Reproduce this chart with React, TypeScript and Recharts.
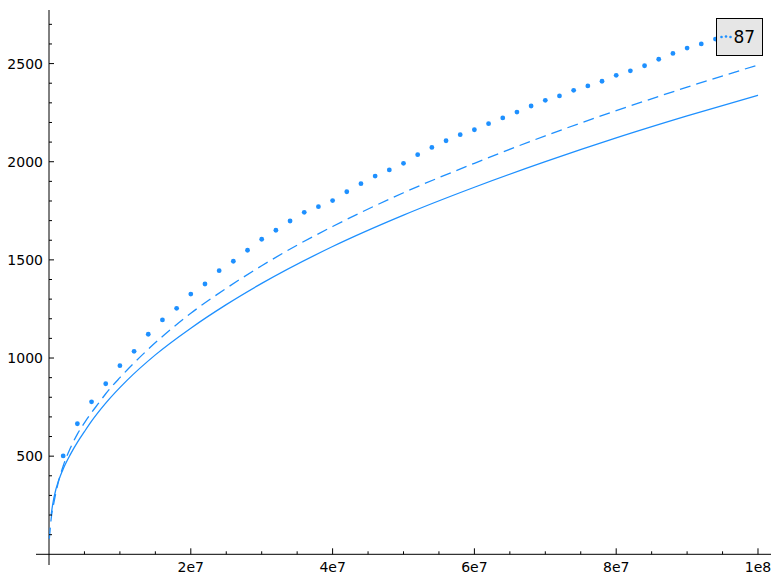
import React from "react"
import { ComposedChart, Line, Scatter, XAxis, YAxis, ReferenceLine, ReferenceDot } from "recharts"

// counted values, sampled every 2e6 (x in millions)
const DOT_X_M = [2, 4, 6, 8, 10, 12, 14, 16, 18, 20, 22, 24, 26, 28, 30, 32, 34, 36, 38, 40, 42, 44, 46, 48, 50, 52, 54, 56, 58, 60, 62, 64, 66, 68, 70, 72, 74, 76, 78, 80, 82, 84, 86, 88, 90, 92, 94, 96, 98, 100]
const DOT_Y = [501, 665, 777, 869, 961, 1034, 1121, 1194, 1253, 1326, 1377, 1445, 1493, 1549, 1605, 1651, 1698, 1742, 1771, 1802, 1847, 1888, 1927, 1958, 1992, 2036, 2073, 2107, 2138, 2163, 2194, 2223, 2253, 2284, 2313, 2335, 2364, 2386, 2410, 2440, 2463, 2489, 2522, 2552, 2579, 2600, 2625, 2650, 2672, 2696]

// solid curve
const SOLID_X_M = [0.3, 0.5, 1, 2, 3, 4, 5, 6, 8, 11, 15, 20, 25, 30, 40, 50, 60, 70, 80, 90, 100]
const SOLID_Y = [200, 250, 335, 435, 508, 570, 625, 678, 770, 886, 1016, 1152, 1272, 1380, 1568, 1728, 1870, 2000, 2121, 2233, 2339]

// dashed curve
const DASH_X_M = [0.05, 0.3, 0.7, 1.2, 2, 3, 4, 5, 6, 7, 8, 10, 12, 14, 16, 20, 25, 30, 35, 40, 50, 60, 70, 80, 90, 100]
const DASH_Y = [80, 180, 265, 350, 450, 540, 612, 670, 722, 770, 818, 900, 975, 1045, 1110, 1228, 1355, 1470, 1575, 1670, 1842, 1992, 2132, 2260, 2380, 2493]

const X_MAJOR = [2e7, 4e7, 6e7, 8e7, 1e8]
const X_MAJOR_LABELS = ["2e7", "4e7", "6e7", "8e7", "1e8"]
const X_MINOR = [5e6, 1e7, 1.5e7, 2.5e7, 3e7, 3.5e7, 4.5e7, 5e7, 5.5e7, 6.5e7, 7e7, 7.5e7, 8.5e7, 9e7, 9.5e7]
const Y_MAJOR = [500, 1000, 1500, 2000, 2500]
const Y_MINOR = [100, 200, 300, 400, 600, 700, 800, 900, 1100, 1200, 1300, 1400, 1600, 1700, 1800, 1900, 2100, 2200, 2300, 2400, 2600, 2700]

const LEGEND_LABEL = "87"
const BLUE = "#1e90ff"
const FONT = "DejaVu Sans, sans-serif"

const toRows = (xs: number[], ys: number[]) => xs.map((x, i) => ({ x: x * 1e6, y: ys[i] }))
const dots = toRows(DOT_X_M, DOT_Y)
const solid = toRows(SOLID_X_M, SOLID_Y)
const dashed = toRows(DASH_X_M, DASH_Y)

const xTick = (len: number, label?: string) => (p: any) => (
  <g>
    <line x1={p.cx} y1={p.cy} x2={p.cx} y2={p.cy - len} stroke="#000" strokeWidth={1} />
    {label && (
      <text x={p.cx} y={p.cy + 18} textAnchor="middle" fontSize={14} fontFamily={FONT} fill="#000">
        {label}
      </text>
    )}
  </g>
)

const yTick = (len: number, label?: string) => (p: any) => (
  <g>
    <line x1={p.cx} y1={p.cy} x2={p.cx + len} y2={p.cy} stroke="#000" strokeWidth={1} />
    {label && (
      <text x={p.cx - 6} y={p.cy + 5} textAnchor="end" fontSize={14} fontFamily={FONT} fill="#000">
        {label}
      </text>
    )}
  </g>
)

export default function App() {
  return (
    <div style={{ position: "absolute", left: 0, top: 0, width: 781, height: 584, background: "#fff" }}>
      <ComposedChart width={781} height={584} margin={{ top: 10, right: 10, left: 36, bottom: 19 }}>
        <XAxis type="number" dataKey="x" domain={[-1.834e6, 1.01834e8]} allowDataOverflow hide />
        <YAxis type="number" dataKey="y" domain={[-54.5, 2773]} allowDataOverflow hide />
        <ReferenceLine y={0} stroke="#000" strokeWidth={1} />
        <ReferenceLine x={0} stroke="#000" strokeWidth={1} />
        {X_MAJOR.map((t, i) => (
          <ReferenceDot key={`xM${t}`} x={t} y={0} r={0} shape={xTick(6, X_MAJOR_LABELS[i])} />
        ))}
        {X_MINOR.map((t) => (
          <ReferenceDot key={`xm${t}`} x={t} y={0} r={0} shape={xTick(3)} />
        ))}
        {Y_MAJOR.map((t) => (
          <ReferenceDot key={`yM${t}`} x={0} y={t} r={0} shape={yTick(5, String(t))} />
        ))}
        {Y_MINOR.map((t) => (
          <ReferenceDot key={`ym${t}`} x={0} y={t} r={0} shape={yTick(3)} />
        ))}
        <Line data={solid} dataKey="y" type="monotone" stroke={BLUE} strokeWidth={1.3} dot={false} isAnimationActive={false} />
        <Line data={dashed} dataKey="y" type="monotone" stroke={BLUE} strokeWidth={1.3} strokeDasharray="11 6" dot={false} isAnimationActive={false} />
        <Scatter
          data={dots}
          dataKey="y"
          fill={BLUE}
          isAnimationActive={false}
          shape={(p: any) => <circle cx={p.cx} cy={p.cy} r={2.4} fill={BLUE} />}
        />
      </ComposedChart>
      <div
        style={{
          position: "absolute",
          left: 716,
          top: 18,
          width: 47,
          height: 38,
          boxSizing: "border-box",
          border: "1px solid #000",
          background: "#e6e6e6",
        }}
      >
        <svg width={45} height={36} style={{ display: "block" }}>
          <circle cx={4.5} cy={18} r={1.3} fill={BLUE} />
          <circle cx={9} cy={17.5} r={1.3} fill={BLUE} />
          <circle cx={13.5} cy={18} r={1.3} fill={BLUE} />
          <text x={16.5} y={24} fontSize={17} fontFamily={FONT} fill="#000">
            {LEGEND_LABEL}
          </text>
        </svg>
      </div>
    </div>
  )
}
